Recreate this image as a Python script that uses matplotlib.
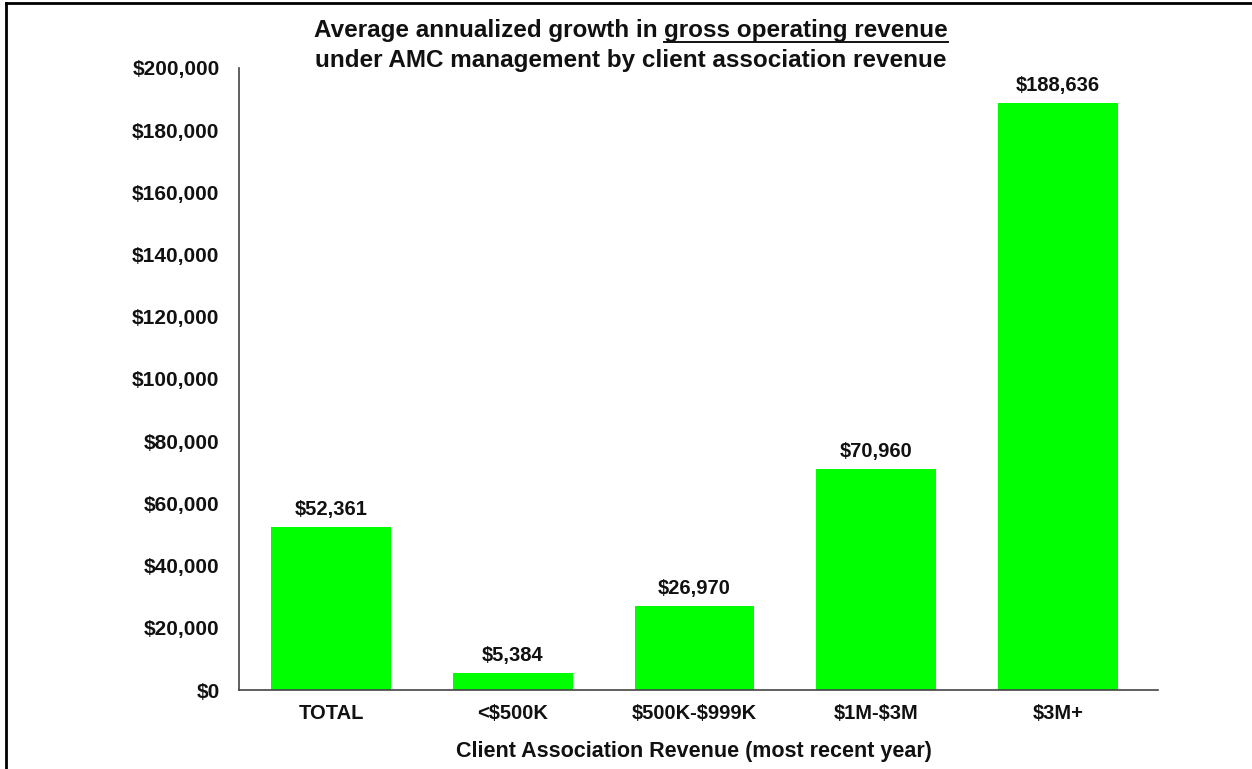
import numpy as np
import matplotlib.pyplot as plt
from matplotlib.lines import Line2D
from matplotlib.ticker import FuncFormatter

plt.rcParams['font.family'] = ['Liberation Sans', 'DejaVu Sans']
plt.rcParams['font.weight'] = 'bold'
plt.rcParams['text.parse_math'] = False

# datos del grafico
categorias = ['TOTAL', '<$500K', '$500K-$999K', '$1M-$3M', '$3M+']
crecimiento = [52361, 5384, 26970, 70960, 188636]

W, H = 1252, 769
fig = plt.figure(figsize=(W / 100, H / 100), dpi=100)
ax = fig.add_axes([239 / W, 1 - 690 / H, 919 / W, 622 / H])

x = np.arange(len(categorias))
barras = ax.bar(x, crecimiento, width=0.66, color='#00ff00')

for b, v in zip(barras, crecimiento):
    ax.annotate(f'${v:,.0f}', (b.get_x() + b.get_width() / 2, v),
                xytext=(0, 6), textcoords='offset points',
                ha='center', va='bottom', fontsize=14.5, fontweight='bold', color='#111111')

ax.set_ylim(0, 200000)
ax.set_xlim(-0.506, 4.55)
ax.set_yticks(np.arange(0, 200001, 20000))
ax.yaxis.set_major_formatter(FuncFormatter(lambda v, p: f'${v:,.0f}'))
ax.set_xticks(x)
ax.set_xticklabels(categorias)
ax.tick_params(length=0, colors='#111111')
ax.tick_params(axis='y', pad=14, labelsize=15)
ax.tick_params(axis='x', pad=10, labelsize=14.5)
for lbl in ax.get_xticklabels() + ax.get_yticklabels():
    lbl.set_fontweight('bold')

for s in ['top', 'right']:
    ax.spines[s].set_visible(False)
for s in ['left', 'bottom']:
    ax.spines[s].set_color('#444444')
    ax.spines[s].set_linewidth(1.2)

ax.set_xlabel('Client Association Revenue (most recent year)', fontsize=15.5,
              fontweight='bold', color='#111111')
ax.xaxis.set_label_coords(0.495, -0.082)

# titulo en dos lineas, con parte subrayada
fs = 17.5
y1 = 1 - 31 / H
t1a = fig.text(0, y1, 'Average annualized growth in ', fontsize=fs,
               fontweight='bold', va='center', ha='left', color='#111111')
t1b = fig.text(0, y1, 'gross operating revenue', fontsize=fs,
               fontweight='bold', va='center', ha='left', color='#111111')
fig.text(0.504, 1 - 60 / H, 'under AMC management by client association revenue',
         fontsize=fs, fontweight='bold', va='center', ha='center', color='#111111')

fig.canvas.draw()
r = fig.canvas.get_renderer()
wa = t1a.get_window_extent(r).width / fig.bbox.width
wb = t1b.get_window_extent(r).width / fig.bbox.width
x0 = 0.504 - (wa + wb) / 2
t1a.set_x(x0)
t1b.set_x(x0 + wa)
yb = 1 - 42 / H
fig.add_artist(Line2D([x0 + wa, x0 + wa + wb], [yb, yb], transform=fig.transFigure,
                      color='#111111', lw=1.4))

# marco superior e izquierdo
fig.add_artist(Line2D([6 / W, 1], [1 - 3 / H, 1 - 3 / H], transform=fig.transFigure,
                      color='black', lw=2))
fig.add_artist(Line2D([6 / W, 6 / W], [0, 1 - 3 / H], transform=fig.transFigure,
                      color='black', lw=2))

fig.savefig('out.png', dpi=100)
